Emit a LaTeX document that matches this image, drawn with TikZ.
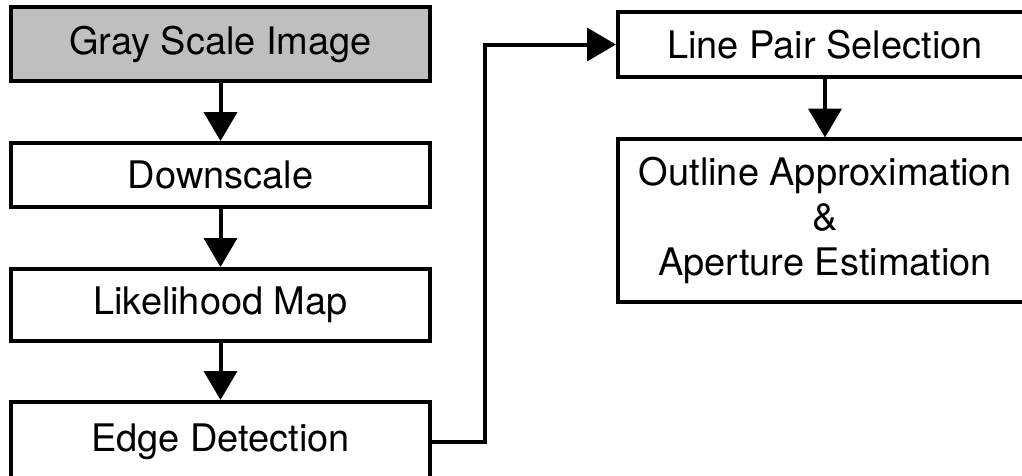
\documentclass[tikz,border=0pt]{standalone}
\usepackage{fontspec}
\setmainfont{TeX Gyre Heros}
\usetikzlibrary{arrows.meta}
\begin{document}
\begin{tikzpicture}[
  x=0.025cm, y=-0.025cm,
  every node/.style = {
    draw,
    line width=0.1cm,
    align=center,
    font=\fontsize{27}{32}\selectfont,
    inner sep=0pt
  },
  leftbox/.style={minimum width=10.475cm},
  rightbox/.style={minimum width=10.35cm},
  flow/.style={draw, line width=0.1cm, -{Triangle[length=0.72cm,width=0.82cm]}}
]
    \useasboundingbox (0,0) rectangle (1022,475);
    \clip (0,0) rectangle (1022,475);
    % left column
    \node[leftbox, fill=black!25, minimum height=1.84cm] (gray) at (220.5,44) {Gray Scale Image};
    \node[leftbox, minimum height=1.6cm] (down) at (220.5,175) {Downscale};
    \node[leftbox, minimum height=1.8cm] (like) at (220.5,305) {Likelihood Map};
    \node[leftbox, minimum height=2cm] (edge) at (220.5,442) {Edge Detection};
    % right column
    \node[rightbox, minimum height=1.625cm] (pair) at (825,44.5) {Line Pair Selection};
    \node[rightbox, minimum height=4.05cm] (outline) at (825,220.5) {Outline Approximation\\ \&\\ Aperture Estimation};
    \coordinate (turn) at (485,442);
    \path[flow] (gray) -- (down);
    \path[flow] (down) -- (like);
    \path[flow] (like) -- (edge);
    \path[flow] (edge.east) -- (turn) |- (pair.west);
    \path[flow] (pair) -- (outline);
\end{tikzpicture}
\end{document}
